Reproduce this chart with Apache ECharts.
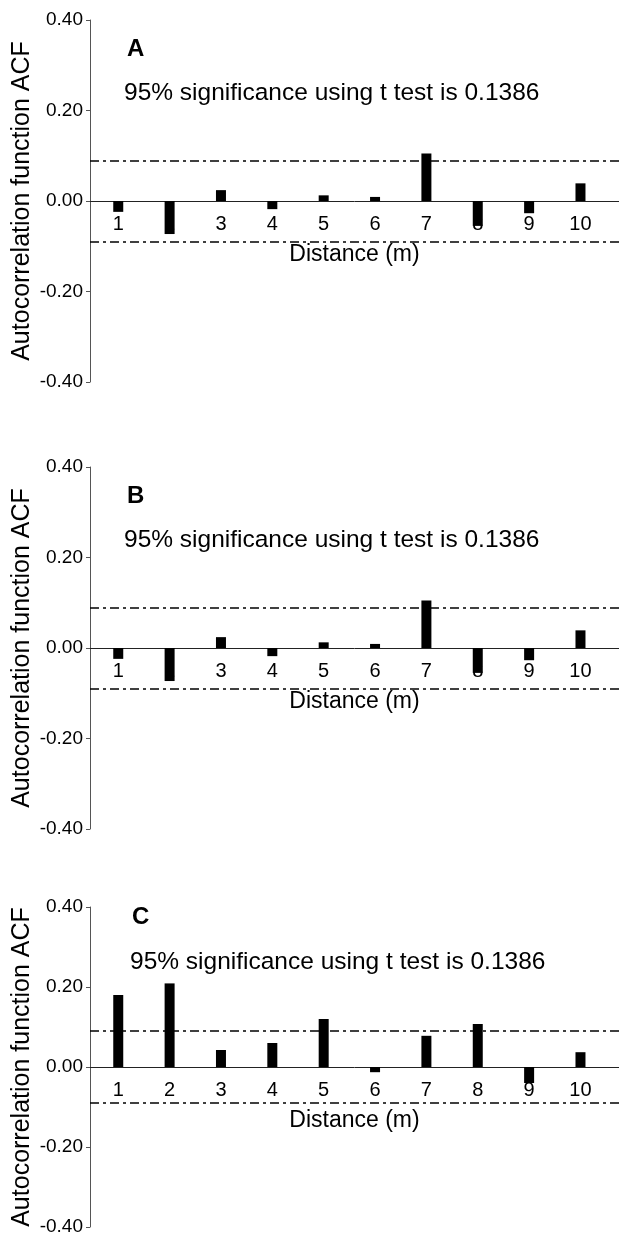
<!DOCTYPE html>
<html>
<head>
<meta charset="utf-8">
<script src="https://cdn.jsdelivr.net/npm/echarts@6/dist/echarts.min.js"></script>
<style>
  html, body { margin: 0; padding: 0; background: #fff; }
  #chart { width: 619px; height: 1234px; }
</style>
</head>
<body>
<div id="chart"></div>
<script>
// lag distances (m)
const distances = [1, 2, 3, 4, 5, 6, 7, 8, 9, 10];

// ACF values
const acfA = [-0.024, -0.073, 0.024, -0.018, 0.0125, 0.009, 0.105, -0.055, -0.027, 0.039];
const acfB = [-0.024, -0.073, 0.024, -0.018, 0.0125, 0.009, 0.105, -0.055, -0.027, 0.039];
const acfC = [0.18, 0.209, 0.0425, 0.06, 0.12, -0.013, 0.078, 0.1075, -0.04, 0.037];

// significance band drawn in each panel
const bandA = 0.088;
const bandB = 0.088;
const bandC = 0.092;

const panelNames = ['A', 'B', 'C'];
const note = '95% significance using t test is 0.1386';
const yTicks = [-0.4, -0.2, 0, 0.2, 0.4];

const panels = [
  { name: panelNames[0], values: acfA, band: bandA, top: 20, height: 362, titleLeft: 127, titleTop: 37, noteLeft: 124, noteTop: 81 },
  { name: panelNames[1], values: acfB, band: bandB, top: 467, height: 362, titleLeft: 127, titleTop: 484, noteLeft: 124, noteTop: 528 },
  { name: panelNames[2], values: acfC, band: bandC, top: 907, height: 320, titleLeft: 132, titleTop: 905, noteLeft: 130, noteTop: 950 }
];

const font = 'Liberation Sans';
const isLag = v => Math.abs(v - Math.round(v)) < 1e-6 && distances.includes(Math.round(v));

const chart = echarts.init(document.getElementById('chart'));

const grid = [], xAxis = [], yAxis = [], series = [], title = [];

panels.forEach((p, i) => {
  const g = i * 2;
  // main plotting grid
  grid.push({ left: 90, right: 0, top: p.top, height: p.height, outerBoundsMode: 'none' });
  // label grid: its bottom edge sits on the zero line, carries the x labels + name
  grid.push({ left: 90, right: 0, top: p.top, height: p.height / 2, outerBoundsMode: 'none' });

  xAxis.push({
    type: 'value',
    gridIndex: g,
    min: 0.45,
    max: 10.75,
    interval: 0.05,
    axisLine: { onZero: true, lineStyle: { color: '#222', width: 1 } },
    axisTick: { show: false },
    splitLine: { show: false },
    axisLabel: { show: false }
  });
  xAxis.push({
    type: 'value',
    gridIndex: g + 1,
    min: 0.45,
    max: 10.75,
    interval: 0.05,
    axisLine: { show: false },
    axisTick: { show: false },
    splitLine: { show: false },
    axisLabel: {
      color: '#000',
      fontSize: 20,
      fontFamily: font,
      margin: 13,
      formatter: v => isLag(v) ? String(Math.round(v)) : ''
    },
    name: 'Distance (m)',
    nameLocation: 'middle',
    nameGap: 42,
    nameMoveOverlap: false,
    nameTextStyle: { color: '#000', fontSize: 23, fontFamily: font }
  });

  yAxis.push({
    type: 'value',
    gridIndex: g,
    min: yTicks[0],
    max: yTicks[yTicks.length - 1],
    interval: 0.2,
    axisLine: { show: true, lineStyle: { color: '#555', width: 1 } },
    axisTick: { show: true, length: 4, lineStyle: { color: '#555' } },
    splitLine: { show: false },
    axisLabel: {
      color: '#000',
      fontSize: 19,
      fontFamily: font,
      margin: 7,
      formatter: v => v.toFixed(2)
    },
    name: 'Autocorrelation function ACF',
    nameLocation: 'middle',
    nameGap: 55,
    nameMoveOverlap: false,
    nameTextStyle: { color: '#000', fontSize: 25, fontFamily: font }
  });
  yAxis.push({
    type: 'value',
    gridIndex: g + 1,
    min: 0,
    max: yTicks[yTicks.length - 1],
    show: false
  });

  series.push({
    type: 'bar',
    xAxisIndex: g,
    yAxisIndex: g,
    barWidth: 10,
    itemStyle: { color: '#000' },
    data: distances.map((d, k) => [d, p.values[k]]),
    markLine: {
      silent: true,
      symbol: 'none',
      label: { show: false },
      lineStyle: { color: '#000', width: 1.5, type: [9, 4, 3, 4] },
      data: [{ yAxis: p.band }, { yAxis: -p.band }]
    }
  });

  title.push({
    text: p.name,
    left: p.titleLeft,
    top: p.titleTop,
    padding: 0,
    textStyle: { fontSize: 24, fontWeight: 'bold', color: '#000', fontFamily: font }
  });
  title.push({
    text: note,
    left: p.noteLeft,
    top: p.noteTop,
    padding: 0,
    textStyle: { fontSize: 24.5, fontWeight: 'normal', color: '#000', fontFamily: font }
  });
});

chart.setOption({
  backgroundColor: '#fff',
  animation: false,
  title,
  grid,
  xAxis,
  yAxis,
  series
});
</script>
</body>
</html>
